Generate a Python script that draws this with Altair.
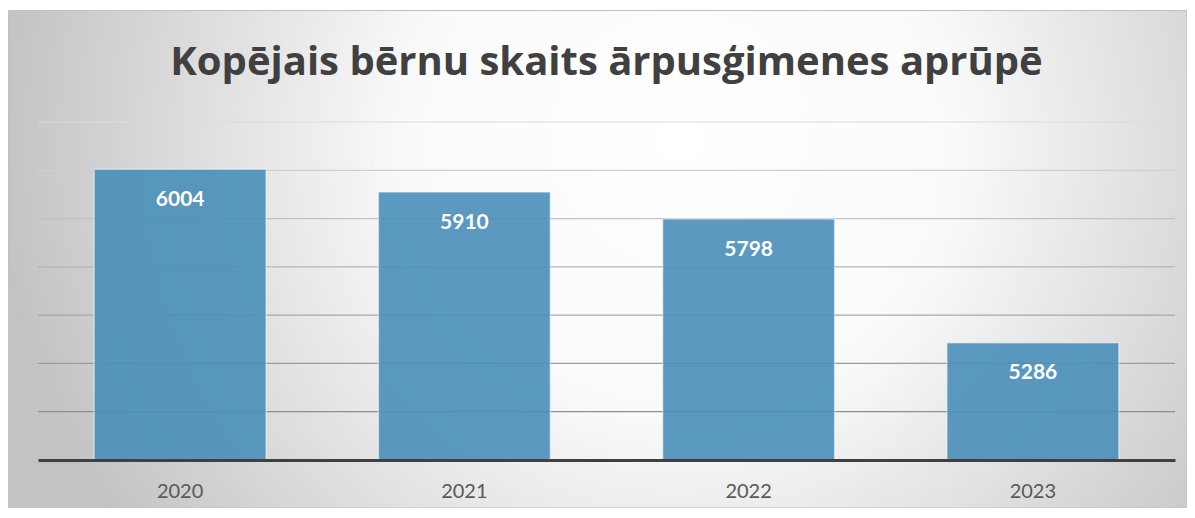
import altair as alt
import pandas as pd

years = ["2020", "2021", "2022", "2023"]
values = [6004, 5910, 5798, 5286]
grid_values = [5000, 5200, 5400, 5600, 5800, 6000, 6200]
title_text = "Kopējais bērnu skaits ārpusģimenes aprūpē"

W, H = 1137, 338
PAD = {"left": 30, "top": 114, "right": 12, "bottom": 48}

df = pd.DataFrame({"year": years, "value": values})
grid_df = pd.DataFrame({"v": grid_values})

y_scale = alt.Scale(domain=[4800, 6200], nice=False, zero=False)
x_scale = alt.Scale(paddingInner=0.395, paddingOuter=0.1975)

bg = alt.Chart(alt.Data(values=[{"a": 1}])).mark_rect(
    fill={
        "gradient": "radial",
        "x1": 0.57, "y1": 0.4, "r1": 0,
        "x2": 0.57, "y2": 0.4, "r2": 0.58,
        "stops": [
            {"offset": 0, "color": "#ffffff"},
            {"offset": 0.4, "color": "#fafafa"},
            {"offset": 1, "color": "#c3c3c3"},
        ],
    },
    stroke="#c0c0c0",
    strokeWidth=1,
).encode(
    x=alt.value(-PAD["left"] + 0.5),
    x2=alt.value(W + PAD["right"]),
    y=alt.value(-PAD["top"] + 2.5),
    y2=alt.value(H + PAD["bottom"]),
)

title = alt.Chart(alt.Data(values=[{"t": title_text}])).mark_text(
    font="Open Sans",
    fontSize=40,
    fontWeight="bold",
    color="#404040",
    baseline="alphabetic",
    align="center",
).encode(
    text="t:N",
    x=alt.value(W / 2),
    y=alt.value(-47),
)

grid = alt.Chart(grid_df).mark_rule(strokeWidth=1.2).encode(
    y=alt.Y("v:Q", scale=y_scale, axis=None),
    x=alt.value(0),
    x2=alt.value(W),
    color=alt.Color(
        "v:Q",
        scale=alt.Scale(domain=[5000, 6200], range=["#8e8e8e", "#dcdcdc"]),
        legend=None,
    ),
)

base = alt.Chart(df).encode(
    x=alt.X(
        "year:N",
        scale=x_scale,
        sort=years,
        axis=alt.Axis(
            title=None,
            labelAngle=0,
            ticks=False,
            grid=False,
            domainColor="#404040",
            domainWidth=3,
            labelFont="Lato",
            labelFontSize=20,
            labelColor="#595959",
            labelPadding=21,
            zindex=1,
        ),
    ),
    y=alt.Y("value:Q", scale=y_scale, axis=None),
)

bars = base.mark_bar(
    color="#4a8fbb",
    opacity=0.9,
    stroke="#ffffff",
    strokeOpacity=0.5,
    strokeWidth=1.5,
).encode(y2=alt.datum(4800))

labels = base.mark_text(
    baseline="top",
    dy=19.5,
    color="#ffffff",
    font="Lato",
    fontWeight="bold",
    fontSize=21,
).encode(text=alt.Text("value:Q", format="d"))

chart = (
    alt.layer(bg, title, grid, bars, labels)
    .properties(
        width=W,
        height=H,
        autosize=alt.AutoSizeParams(type="none"),
        padding=PAD,
    )
    .configure_view(stroke=None)
    .configure(background="#ffffff")
)

chart.save("out.html", embed_options={"renderer": "svg", "actions": False})
